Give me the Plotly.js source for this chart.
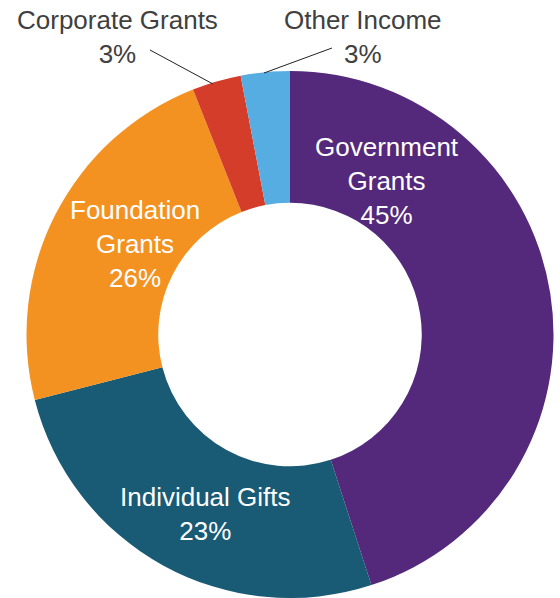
<!DOCTYPE html>
<html>
<head>
<meta charset="utf-8">
<script src="https://cdn.plot.ly/plotly-3.0.1.min.js"></script>
<style>
  html, body { margin: 0; padding: 0; background: #ffffff; }
  #chart { width: 560px; height: 598px; }
</style>
</head>
<body>
<div id="chart"></div>
<script>
// Categories, in drawing order (clockwise from 12 o'clock)
const categories = ["Government Grants", "Individual Gifts", "Foundation Grants", "Corporate Grants", "Other Income"];
// Slice sizes (percent)
const sliceValues = [45, 26, 23, 3, 3];
// Percent labels as printed on the reference
const printedShares = ["45%", "23%", "26%", "3%", "3%"];
// Label text (with line breaks as in the reference)
const labelText = ["Government<br>Grants", "Individual Gifts", "Foundation<br>Grants", "Corporate Grants", "Other Income"];
const sliceColors = ["#54297c", "#195a74", "#f39221", "#d43d2a", "#56ade2"];

const W = 560, H = 598;
const px = x => x / W;
const py = y => 1 - y / H;

// label anchor positions (pixels), inside slices are white, outside are grey
const labelPos = [[387, 181, true], [205, 514, true], [135, 244, true], [117, 37, false], [363, 37, false]];

const annotations = categories.map((c, i) => ({
  text: labelText[i] + "<br>" + printedShares[i],
  x: px(labelPos[i][0]), y: py(labelPos[i][1]),
  xref: "paper", yref: "paper",
  xanchor: "center", yanchor: "middle",
  showarrow: false,
  align: "center",
  font: { family: "Liberation Sans, Arial, sans-serif", size: 26, color: labelPos[i][2] ? "#ffffff" : "#404040" }
}));

const shapes = [
  { type: "line", xref: "paper", yref: "paper", x0: px(150), y0: py(50), x1: px(213), y1: py(84), line: { color: "#222222", width: 1 } },
  { type: "line", xref: "paper", yref: "paper", x0: px(332), y0: py(48), x1: px(264), y1: py(73), line: { color: "#222222", width: 1 } }
];

const trace = {
  type: "pie",
  labels: categories,
  values: sliceValues,
  marker: { colors: sliceColors, line: { width: 0 } },
  hole: 0.5,
  sort: false,
  direction: "clockwise",
  rotation: 0,
  textinfo: "none",
  hoverinfo: "label+percent",
  showlegend: false,
  domain: { x: [26 / W, 554 / W], y: [0, 1 - 71 / H] }
};

const layout = {
  width: W, height: H,
  margin: { l: 0, r: 0, t: 0, b: 0 },
  paper_bgcolor: "#ffffff",
  plot_bgcolor: "#ffffff",
  showlegend: false,
  annotations: annotations,
  shapes: shapes,
  font: { family: "Liberation Sans, Arial, sans-serif" }
};

Plotly.newPlot("chart", [trace], layout, { displayModeBar: false, staticPlot: true });
</script>
</body>
</html>
